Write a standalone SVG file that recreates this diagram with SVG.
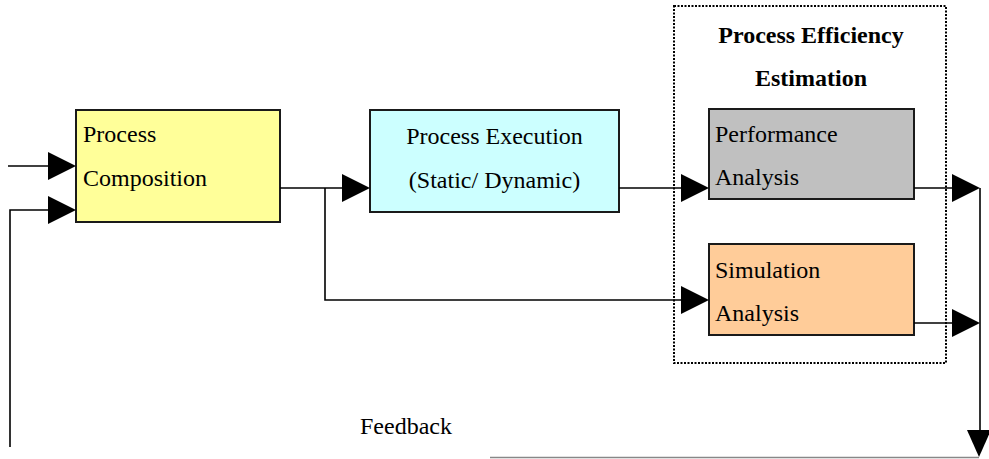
<svg xmlns="http://www.w3.org/2000/svg" width="989" height="459" viewBox="0 0 989 459">
<style>
.box{stroke:#1a1a1a;stroke-width:2}
text{font-family:'Times New Roman','Liberation Serif','DejaVu Serif',serif;font-size:24px;fill:#000}
.b{font-weight:bold}
.ln{fill:none;stroke:#000;stroke-width:1.6}
.ah{fill:#000}
</style>
<rect width="989" height="459" fill="#fff"/>
<g id="efficiency-group">
<rect x="674" y="6" width="272" height="357" fill="none" stroke="#000" stroke-width="2" stroke-dasharray="2,1.5"/>
<text class="b" x="811" y="43" text-anchor="middle">Process Efficiency</text>
<text class="b" x="811" y="86" text-anchor="middle">Estimation</text>
</g>
<g id="composition">
<rect class="box" x="76" y="110" width="204" height="112" fill="#FFFF99"/>
<text x="83" y="142">Process</text>
<text x="83" y="186">Composition</text>
</g>
<g id="execution">
<rect class="box" x="370" y="110" width="249" height="102" fill="#CCFFFF"/>
<text x="494.5" y="144" text-anchor="middle">Process Execution</text>
<text x="494.5" y="188" text-anchor="middle">(Static/ Dynamic)</text>
</g>
<g id="performance">
<rect class="box" x="709" y="109" width="205" height="90" fill="#C0C0C0"/>
<text x="715" y="142">Performance</text>
<text x="715" y="185">Analysis</text>
</g>
<g id="simulation">
<rect class="box" x="709" y="244" width="205" height="91" fill="#FFCC99"/>
<text x="715" y="278">Simulation</text>
<text x="715" y="321">Analysis</text>
</g>
<g id="connectors">
<line class="ln" x1="8" y1="166" x2="50" y2="166"/>
<polygon class="ah" points="48,152 76,166 48,180"/>
<polyline class="ln" points="10,447 10,210 50,210"/>
<polygon class="ah" points="48,196 76,210 48,224"/>
<line class="ln" x1="280" y1="188" x2="345" y2="188"/>
<polygon class="ah" points="342,174 370,188 342,202"/>
<polyline class="ln" points="325,188 325,300 684,300"/>
<polygon class="ah" points="681,286 709,300 681,314"/>
<line class="ln" x1="619" y1="188" x2="684" y2="188"/>
<polygon class="ah" points="681,174 709,188 681,202"/>
<line class="ln" x1="914" y1="188" x2="955" y2="188"/>
<polygon class="ah" points="952,174 980,188 952,202"/>
<line class="ln" x1="914" y1="323" x2="955" y2="323"/>
<polygon class="ah" points="952,309 980,323 952,337"/>
<line class="ln" x1="980" y1="188" x2="980" y2="434"/>
<polygon class="ah" points="967,430 991,430 979,457"/>
<line x1="490" y1="457.5" x2="979" y2="457.5" stroke="#888" stroke-width="1.5"/>
<text x="360" y="434">Feedback</text>
</g>
</svg>
